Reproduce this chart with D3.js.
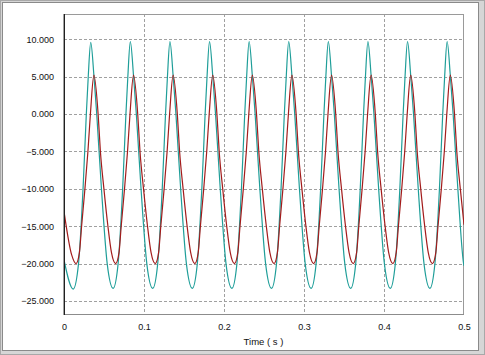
<!DOCTYPE html>
<html>
<head>
<meta charset="utf-8">
<script src="https://cdn.jsdelivr.net/npm/d3@7/dist/d3.min.js"></script>
<style>
  html, body { margin: 0; padding: 0; background: #fff; }
  svg { display: block; }
  text { font-family: "Liberation Sans", Arial, sans-serif; }
</style>
</head>
<body>
<svg id="chart" width="485" height="355"></svg>
<script>
// ---------- data ----------
const xTicks = [0, 0.1, 0.2, 0.3, 0.4, 0.5];
const xTickLabels = ["0", "0.1", "0.2", "0.3", "0.4", "0.5"];
const yTicks = [-25, -20, -15, -10, -5, 0, 5, 10];
const xTitle = "Time ( s )";

const tealTime = [
  0.0000,
  0.0115, 0.01815, 0.0238, 0.0279, 0.0303, 0.0334, 0.0375, 0.0409, 0.0468, 0.0540,
  0.0614, 0.06765, 0.0733, 0.0774, 0.0798, 0.0829, 0.0870, 0.0904, 0.0963, 0.1035,
  0.1109, 0.11715, 0.1228, 0.1269, 0.1293, 0.1324, 0.1365, 0.1399, 0.1458, 0.1530,
  0.1604, 0.16665, 0.1723, 0.1764, 0.1788, 0.1819, 0.1860, 0.1894, 0.1953, 0.2025,
  0.2099, 0.21615, 0.2218, 0.2259, 0.2283, 0.2314, 0.2355, 0.2389, 0.2448, 0.2520,
  0.2594, 0.26565, 0.2713, 0.2754, 0.2778, 0.2809, 0.2850, 0.2884, 0.2943, 0.3015,
  0.3089, 0.31515, 0.3208, 0.3249, 0.3273, 0.3304, 0.3345, 0.3379, 0.3438, 0.3510,
  0.3584, 0.36465, 0.3703, 0.3744, 0.3768, 0.3799, 0.3840, 0.3874, 0.3933, 0.4005,
  0.4079, 0.41415, 0.4198, 0.4239, 0.4263, 0.4294, 0.4335, 0.4369, 0.4428, 0.4500,
  0.4574, 0.46365, 0.4693, 0.4734, 0.4758, 0.4789, 0.4830, 0.4864, 0.4923, 0.4995,
  0.5000
];
const tealValue = [
  -19.5,
  -23.4, -20, -10, 0, 5, 9.6, 5, 0, -10, -20,
  -23.3, -20, -10, 0, 5, 9.7, 5, 0, -10, -20,
  -23.3, -20, -10, 0, 5, 9.7, 5, 0, -10, -20,
  -23.3, -20, -10, 0, 5, 9.7, 5, 0, -10, -20,
  -23.3, -20, -10, 0, 5, 9.7, 5, 0, -10, -20,
  -23.3, -20, -10, 0, 5, 9.7, 5, 0, -10, -20,
  -23.3, -20, -10, 0, 5, 9.7, 5, 0, -10, -20,
  -23.3, -20, -10, 0, 5, 9.7, 5, 0, -10, -20,
  -23.3, -20, -10, 0, 5, 9.7, 5, 0, -10, -20,
  -23.3, -20, -10, 0, 5, 9.7, 5, 0, -10, -20,
  -20.3
];

const redTime = [
  0.0000, 0.0095,
  0.0151, 0.0193, 0.0220, 0.02615, 0.0299, 0.0330, 0.0374, 0.04265, 0.0455, 0.0499, 0.0549, 0.0593,
  0.0646, 0.0688, 0.0715, 0.07565, 0.0794, 0.0825, 0.0869, 0.09215, 0.0950, 0.0994, 0.1044, 0.1088,
  0.1141, 0.1183, 0.1210, 0.12515, 0.1289, 0.1320, 0.1364, 0.14165, 0.1445, 0.1489, 0.1539, 0.1583,
  0.1636, 0.1678, 0.1705, 0.17465, 0.1784, 0.1815, 0.1859, 0.19115, 0.1940, 0.1984, 0.2034, 0.2078,
  0.2131, 0.2173, 0.2200, 0.22415, 0.2279, 0.2310, 0.2354, 0.24065, 0.2435, 0.2479, 0.2529, 0.2573,
  0.2626, 0.2668, 0.2695, 0.27365, 0.2774, 0.2805, 0.2849, 0.29015, 0.2930, 0.2974, 0.3024, 0.3068,
  0.3121, 0.3163, 0.3190, 0.32315, 0.3269, 0.3300, 0.3344, 0.33965, 0.3425, 0.3469, 0.3519, 0.3563,
  0.3616, 0.3658, 0.3685, 0.37265, 0.3764, 0.3795, 0.3839, 0.38915, 0.3920, 0.3964, 0.4014, 0.4058,
  0.4111, 0.4153, 0.4180, 0.42215, 0.4259, 0.4290, 0.4334, 0.43865, 0.4415, 0.4459, 0.4509, 0.4553,
  0.4606, 0.4648, 0.4675, 0.47165, 0.4754, 0.4785, 0.4829, 0.48815, 0.4910, 0.4954, 0.5000
];
const redValue = [
  -13, -18.8,
  -20, -18.5, -15, -10, -5, 0, 5.2, 0, -5, -10, -15, -18.5,
  -20, -18.5, -15, -10, -5, 0, 5.2, 0, -5, -10, -15, -18.5,
  -20, -18.5, -15, -10, -5, 0, 5.2, 0, -5, -10, -15, -18.5,
  -20, -18.5, -15, -10, -5, 0, 5.2, 0, -5, -10, -15, -18.5,
  -20, -18.5, -15, -10, -5, 0, 5.2, 0, -5, -10, -15, -18.5,
  -20, -18.5, -15, -10, -5, 0, 5.2, 0, -5, -10, -15, -18.5,
  -20, -18.5, -15, -10, -5, 0, 5.2, 0, -5, -10, -15, -18.5,
  -20, -18.5, -15, -10, -5, 0, 5.2, 0, -5, -10, -15, -18.5,
  -20, -18.5, -15, -10, -5, 0, 5.2, 0, -5, -10, -15, -18.5,
  -20, -18.5, -15, -10, -5, 0, 5.2, 0, -5, -10, -14.8
];

// ---------- layout ----------
const W = 485, H = 355;
const plot = { left: 64, top: 14, right: 463, bottom: 314 };

const svg = d3.select("#chart");

// window-like frame
svg.append("rect").attr("x", 0).attr("y", 0).attr("width", W).attr("height", H).attr("fill", "#d6d6d6");
svg.append("rect").attr("x", 0.5).attr("y", 0.5).attr("width", W - 1).attr("height", H - 1)
  .attr("fill", "none").attr("stroke", "#a8a8a8");
svg.append("rect").attr("x", 2).attr("y", 2).attr("width", 477).attr("height", 349).attr("fill", "#fff");
svg.append("rect").attr("x", 2.5).attr("y", 2.5).attr("width", 476).attr("height", 348)
  .attr("fill", "none").attr("stroke", "#8a8a8a");

const x = d3.scaleLinear().domain([0, 0.5]).range([plot.left, plot.right + 1]);
const y = d3.scaleLinear().domain([-26.74, 13.38]).range([plot.bottom, plot.top]);
const px = v => Math.round(v) + 0.5;

// grid
const grid = svg.append("g").attr("stroke", "#a0a0a0").attr("stroke-dasharray", "3,2").attr("stroke-width", 1);
yTicks.forEach(t => {
  grid.append("line").attr("x1", plot.left).attr("x2", plot.right)
    .attr("y1", px(y(t))).attr("y2", px(y(t)));
});
xTicks.slice(1).forEach(t => {
  const xx = Math.min(px(x(t)), plot.right + 0.5);
  grid.append("line").attr("x1", xx).attr("x2", xx)
    .attr("y1", plot.top).attr("y2", plot.bottom);
});

// plot border
svg.append("line").attr("x1", plot.left).attr("x2", plot.right + 1).attr("y1", plot.top + 0.5).attr("y2", plot.top + 0.5)
  .attr("stroke", "#9a9a9a");
svg.append("line").attr("x1", plot.right + 0.5).attr("x2", plot.right + 0.5).attr("y1", plot.top).attr("y2", plot.bottom + 1)
  .attr("stroke", "#9a9a9a");
svg.append("line").attr("x1", plot.left).attr("x2", plot.right + 1).attr("y1", plot.bottom + 0.5).attr("y2", plot.bottom + 0.5)
  .attr("stroke", "#8c8c8c");

// series
svg.append("clipPath").attr("id", "clip").append("rect")
  .attr("x", plot.left).attr("y", plot.top).attr("width", plot.right - plot.left + 1).attr("height", plot.bottom - plot.top);

const line = d3.line().x(d => x(d[0])).y(d => y(d[1])).curve(d3.curveMonotoneX);
const tealData = tealTime.map((t, i) => [t, tealValue[i]]);
const redData = redTime.map((t, i) => [t, redValue[i]]);

const series = svg.append("g").attr("clip-path", "url(#clip)");
series.append("path").datum(tealData).attr("d", line)
  .attr("fill", "none").attr("stroke", "#1f9e99").attr("stroke-width", 1.2);
series.append("path").datum(redData).attr("d", line)
  .attr("fill", "none").attr("stroke", "#a31c1c").attr("stroke-width", 1.2);

// left axis line (dark, with grey shadow)
svg.append("line").attr("x1", plot.left - 0.5).attr("x2", plot.left - 0.5).attr("y1", plot.top).attr("y2", plot.bottom + 1)
  .attr("stroke", "#a0a0a0");
svg.append("line").attr("x1", plot.left + 0.5).attr("x2", plot.left + 0.5).attr("y1", plot.top).attr("y2", plot.bottom + 1)
  .attr("stroke", "#202020");

// axes (labels only)
const yAxis = d3.axisLeft(y).tickValues(yTicks).tickFormat(d3.format(".3f")).tickSize(0).tickPadding(10);
const gy = svg.append("g").attr("transform", `translate(${plot.left},0)`).call(yAxis);
gy.select(".domain").remove();
gy.selectAll("text").attr("font-size", "9px").attr("fill", "#111")
  .attr("font-family", "'Liberation Sans', Arial, sans-serif");

const xAxis = d3.axisBottom(x).tickValues(xTicks).tickFormat((d, i) => xTickLabels[i]).tickSize(0).tickPadding(10);
const gx = svg.append("g").attr("transform", `translate(0,${plot.bottom})`).call(xAxis);
gx.select(".domain").remove();
gx.selectAll("text").attr("font-size", "9px").attr("fill", "#111")
  .attr("font-family", "'Liberation Sans', Arial, sans-serif");

svg.append("text").attr("x", (plot.left + plot.right) / 2).attr("y", 345)
  .attr("text-anchor", "middle").attr("font-size", "9.5px").attr("fill", "#111")
  .text(xTitle);
</script>
</body>
</html>
